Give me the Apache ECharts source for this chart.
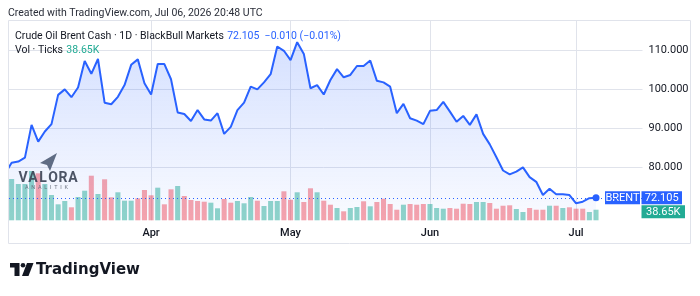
<!DOCTYPE html>
<html>
<head>
<meta charset="utf-8">
<script src="https://cdn.jsdelivr.net/npm/echarts@6/dist/echarts.min.js"></script>
<style>
  html, body { margin: 0; padding: 0; background: #fff; }
  #chart { width: 700px; height: 296px; }
</style>
</head>
<body>
<div id="chart"></div>
<script>
var startDate = '2026-03-02';
var endDate = '2026-07-15';
var holidays = ['2026-04-03'];
var monthNames = ['Jan', 'Feb', 'Mar', 'Apr', 'May', 'Jun', 'Jul', 'Aug', 'Sep', 'Oct', 'Nov', 'Dec'];
var priceTicks = [80, 90, 100, 110];

// daily close, Mar 02 .. Jul 06
var closes = [78.3, 81.1, 81.4, 82.4, 90.8, 86.5, 89.1, 91.0, 98.5, 99.9,
  97.9, 100.4, 107.2, 103.9, 107.7, 96.5, 96.1, 98.0, 101.0, 106.2,
  107.6, 101.5, 98.6, 106.4, 106.4, 102.5, 94.0, 93.6, 91.8, 94.6,
  92.2, 91.9, 93.8, 88.5, 90.3, 94.6, 96.5, 100.6, 99.9, 101.7,
  103.8, 110.9, 109.8, 107.4, 112.0, 109.0, 100.2, 101.0, 98.6, 102.3,
  105.1, 103.0, 103.6, 105.9, 105.9, 107.3, 102.1, 101.7, 100.6, 93.8,
  96.2, 92.5, 91.9, 91.0, 94.4, 94.6, 96.7, 94.2, 91.6, 93.1,
  90.8, 93.5, 88.5, 85.8, 82.5, 79.1, 78.1, 78.8, 79.9, 77.4,
  76.2, 72.8, 74.4, 73.0, 73.0, 72.8, 70.7, 71.1, 72.0, 72.105];

// volume in thousands of ticks
var volumes = [null, 150.6, 132.3, 132.3, 179.7, 171.4, 132.3, 92.2, 58.3, 70.4,
  47.4, 85.0, 107.9, 162.6, 95.9, 149.5, 83.9, 102.1, 71.5, 71.5,
  80.2, 110.5, 91.2, 118.9, 58.3, 113.0, 125.0, 88.6, 74.0, 70.4,
  67.8, 64.2, 43.8, 77.7, 64.2, 70.4, 62.0, 85.0, 71.5, 52.1,
  70.4, 70.4, 105.7, 75.1, 102.1, 66.7, 116.7, 102.1, 71.5, 56.9,
  44.8, 32.8, 44.8, 48.5, 69.3, 51.0, 66.7, 78.8, 59.4, 38.6,
  56.9, 59.4, 56.9, 59.4, 59.4, 44.8, 42.3, 44.8, 42.3, 60.5,
  59.4, 66.7, 66.7, 63.1, 42.3, 53.2, 54.7, 41.2, 30.3, 44.8,
  38.6, 38.6, 53.2, 53.2, 44.8, 47.4, 42.3, 42.3, 30.3, 38.65];

// 1 = up day (teal), 0 = down day (red)
var volUp = [0, 1, 1, 1, 1, 0, 1, 1, 1, 1,
  0, 1, 1, 0, 1, 0, 0, 1, 1, 1,
  0, 0, 0, 1, 0, 0, 1, 0, 0, 0,
  0, 1, 1, 0, 0, 1, 1, 1, 0, 1,
  1, 1, 0, 0, 1, 0, 0, 1, 0, 0,
  1, 0, 1, 1, 0, 1, 0, 0, 0, 0,
  1, 0, 0, 0, 1, 1, 1, 0, 0, 0,
  0, 1, 1, 0, 0, 0, 0, 1, 1, 0,
  0, 0, 1, 0, 1, 0, 0, 0, 1, 1];

var seriesName = 'Crude Oil Brent Cash · 1D · BlackBull Markets';
var priceText = '72.105  −0.010 (−0.01%)';
var volText = '38.65K';

function tradingDays(from, to, skip) {
  var out = [];
  var d = new Date(from + 'T00:00:00Z');
  var end = new Date(to + 'T00:00:00Z');
  while (d <= end) {
    var s = d.toISOString().slice(0, 10);
    var wd = d.getUTCDay();
    if (wd !== 0 && wd !== 6 && skip.indexOf(s) < 0) out.push(s);
    d.setUTCDate(d.getUTCDate() + 1);
  }
  return out;
}

var dates = tradingDays(startDate, endDate, holidays);
function isMonthStart(i) {
  return i > 0 && dates[i].slice(5, 7) !== dates[i - 1].slice(5, 7);
}

var font = 'Roboto, "Noto Sans", sans-serif';
var gridL = 5, gridR = 57.5, plotTop = 21, plotBottom = 75.7;

var chart = echarts.init(document.getElementById('chart'));
var option = {
  animation: false,
  grid: [
    { left: gridL, right: gridR, top: plotTop, bottom: plotBottom },
    { left: gridL, right: gridR, top: 120.3, bottom: plotBottom }
  ],
  xAxis: [{
    type: 'category',
    gridIndex: 0,
    data: dates,
    boundaryGap: false,
    axisLine: { show: false },
    axisTick: { show: false },
    axisLabel: {
      interval: function (i) { return isMonthStart(i); },
      formatter: function (v) { return monthNames[+v.slice(5, 7) - 1]; },
      color: '#131722',
      fontSize: 11,
      fontWeight: 500,
      fontFamily: font,
      margin: 7
    },
    splitLine: {
      show: true,
      interval: function (i) { return isMonthStart(i); },
      lineStyle: { color: '#e0e3eb', width: 1 }
    }
  }, {
    type: 'category',
    gridIndex: 1,
    data: dates,
    boundaryGap: false,
    show: false
  }],
  yAxis: [{
    type: 'value',
    gridIndex: 0,
    min: 66.33,
    max: 117.44,
    show: false,
    splitLine: { show: false }
  }, {
    type: 'value',
    gridIndex: 1,
    min: 0,
    max: 364.6,
    show: false,
    splitLine: { show: false }
  }],
  series: [{
    name: 'gridlines',
    type: 'line',
    xAxisIndex: 0,
    yAxisIndex: 0,
    data: [],
    silent: true,
    markLine: {
      silent: true,
      z: 1,
      symbol: 'none',
      lineStyle: { color: '#e0e3eb', width: 1, type: 'solid' },
      label: {
        position: 'end',
        distance: 6,
        color: '#131722',
        fontSize: 11,
        fontFamily: font,
        formatter: function (p) { return p.value.toFixed(3); }
      },
      data: priceTicks.map(function (v) { return { yAxis: v }; })
    }
  }, {
    name: 'BRENT',
    type: 'line',
    xAxisIndex: 0,
    yAxisIndex: 0,
    data: closes,
    z: 3,
    showSymbol: true,
    showAllSymbol: true,
    symbol: 'circle',
    symbolSize: function (v, p) { return p.dataIndex === closes.length - 1 ? 7 : 0; },
    lineStyle: { color: '#2962ff', width: 2 },
    itemStyle: { color: '#2962ff' },
    areaStyle: {
      color: new echarts.graphic.LinearGradient(0, 0, 0, 1, [
        { offset: 0, color: 'rgba(41,98,255,0.28)' },
        { offset: 1, color: 'rgba(41,98,255,0.04)' }
      ])
    },
    markLine: {
      silent: true,
      z: 6,
      symbol: 'none',
      label: { show: false },
      lineStyle: { color: '#2962ff', width: 1, type: [1, 3] },
      data: [{ yAxis: closes[closes.length - 1] }]
    }
  }, {
    name: 'Vol',
    type: 'bar',
    xAxisIndex: 1,
    yAxisIndex: 1,
    data: volumes,
    z: 2,
    barCategoryGap: '24%',
    itemStyle: {
      color: function (p) {
        return volUp[p.dataIndex] ? 'rgba(34,171,148,0.5)' : 'rgba(242,54,69,0.45)';
      }
    }
  }]
};
chart.setOption(option);

var last = closes.length - 1;
var yPrice = chart.convertToPixel({ yAxisIndex: 0 }, closes[last]);
var yVol = Math.max(chart.convertToPixel({ yAxisIndex: 1 }, volumes[last]), yPrice + 14);

function tag(x, y, w, text, color) {
  return {
    type: 'group',
    z: 120,
    children: [{
      type: 'rect',
      shape: { x: x, y: y - 6.5, width: w, height: 13 },
      style: { fill: color }
    }, {
      type: 'text',
      x: x + w / 2,
      y: y,
      style: { text: text, fill: '#fff', font: '11px ' + font, align: 'center', verticalAlign: 'middle' }
    }]
  };
}

// letter-spaced watermark word
var watermark = 'VALORA'.split('').map(function (ch, i) {
  return {
    type: 'text', z: 110, x: 23 + i * 10, y: 178,
    style: { text: ch, fill: '#3a4354', font: 'bold 14px ' + font, align: 'center', verticalAlign: 'middle', opacity: 0.9 }
  };
});

chart.setOption({
  graphic: [
    { type: 'rect', z: 100, shape: { x: 0, y: 20, width: 8, height: 225 }, style: { fill: '#fff' } },
    { type: 'rect', z: 101, shape: { x: 8.5, y: 20.5, width: 682, height: 223 }, style: { fill: 'none', stroke: '#e0e3eb', lineWidth: 1 } },
    {
      type: 'text', z: 110, x: 8, y: 13,
      style: { text: 'Created with TradingView.com, Jul 06, 2026 20:48 UTC', fill: '#2a2e39', font: '10.5px ' + font, verticalAlign: 'middle' }
    },
    {
      type: 'text', z: 110, x: 15, y: 36,
      style: {
        text: '{a|' + seriesName + '} {b|' + priceText + '}',
        verticalAlign: 'middle',
        rich: {
          a: { fill: '#131722', font: '10.5px ' + font },
          b: { fill: '#2962ff', font: '10.5px ' + font }
        }
      }
    },
    {
      type: 'text', z: 110, x: 15, y: 50,
      style: {
        text: '{a|Vol · Ticks} {b|' + volText + '}',
        verticalAlign: 'middle',
        rich: {
          a: { fill: '#131722', font: '10.5px ' + font },
          b: { fill: '#22ab94', font: '10.5px ' + font }
        }
      }
    },
    // watermark
    { type: 'polygon', z: 110, shape: { points: [[57, 153], [40, 163], [47, 165], [50, 171]] }, style: { fill: '#47556e', opacity: 0.85 } },
    { type: 'text', z: 110, x: 25, y: 188, style: { text: 'A  N  A  L  I  T  I  K', fill: '#6b7280', font: '5.5px ' + font, verticalAlign: 'middle' } },
    // TradingView logo
    { type: 'polygon', z: 110, shape: { points: [[10, 263], [19.5, 263], [19.5, 276], [14.5, 276], [14.5, 267.5], [10, 267.5]] }, style: { fill: '#131722' } },
    { type: 'circle', z: 110, shape: { cx: 23, cy: 265.3, r: 2.3 }, style: { fill: '#131722' } },
    { type: 'polygon', z: 110, shape: { points: [[27, 263], [33.5, 263], [28.5, 276], [22, 276]] }, style: { fill: '#131722' } },
    { type: 'text', z: 110, x: 36, y: 270, style: { text: 'TradingView', fill: '#131722', font: 'bold 15px "DejaVu Sans", sans-serif', verticalAlign: 'middle' } },
    tag(605, yPrice, 35, 'BRENT', '#2962ff'),
    tag(641.5, yPrice, 40.5, closes[last].toFixed(3), '#2962ff'),
    tag(641.5, yVol, 43.5, volText, '#22ab94')
  ].concat(watermark)
});
</script>
</body>
</html>
